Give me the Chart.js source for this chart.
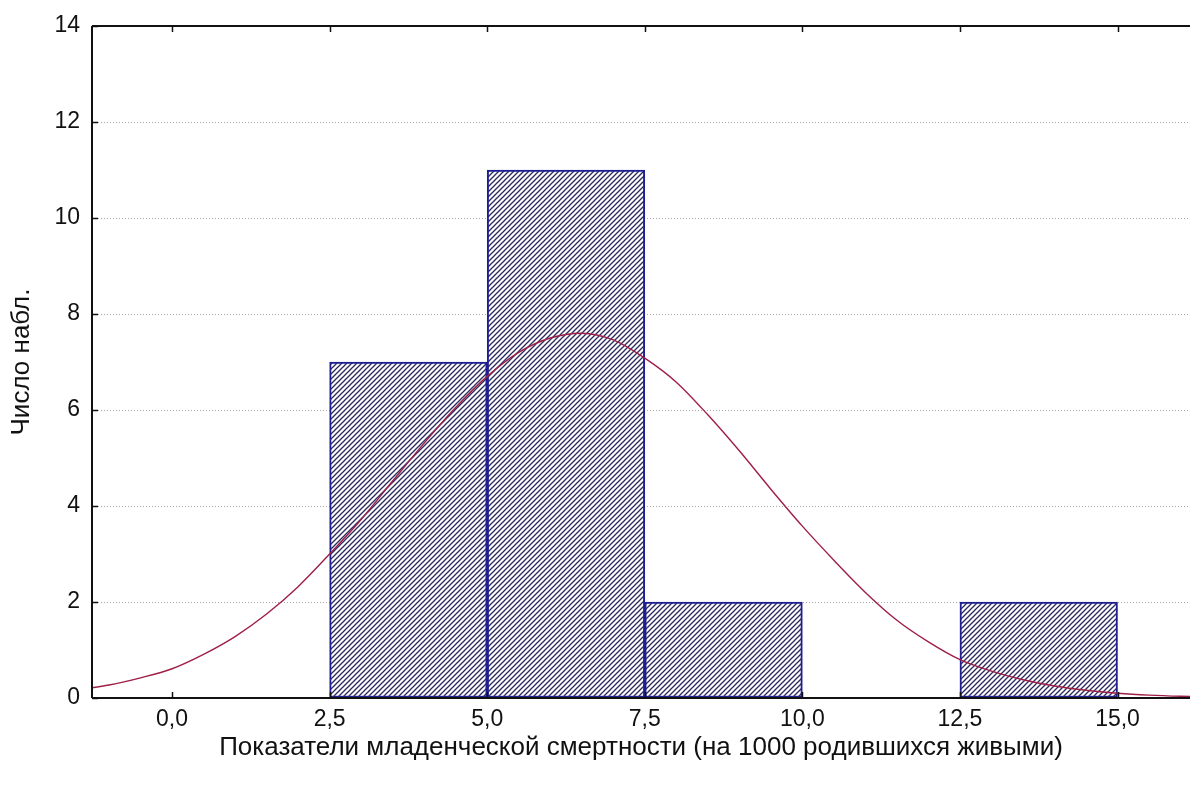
<!DOCTYPE html>
<html><head><meta charset="utf-8">
<script src="https://cdn.jsdelivr.net/npm/chart.js@4.4.1/dist/chart.umd.min.js"></script>
<style>html,body{margin:0;padding:0;background:#fff}#wrap{width:1190px;height:787px}</style>
</head><body><div id="wrap"><canvas id="c" width="1190" height="787"></canvas></div>
<script>
// Histogram bins (centres) and counts
const binCenters = [3.75, 6.25, 8.75, 11.25, 13.75];
const binCounts  = [7, 11, 2, 0, 2];
// Fitted normal curve
const curveX = [-1.5,-1,-0.5,0,0.5,1,1.5,2,2.5,3,3.5,4,4.5,5,5.5,6,6.5,7,7.5,8,8.5,9,9.5,10,10.5,11,11.5,12,12.5,13,13.5,14,14.5,15,15.5,16,16.5];
const curveY = [0.17,0.27,0.42,0.61,0.91,1.28,1.75,2.32,3.0,3.72,4.52,5.31,6.05,6.7,7.2,7.5,7.6,7.46,7.08,6.58,5.9,5.15,4.35,3.58,2.87,2.2,1.62,1.17,0.8,0.56,0.38,0.25,0.16,0.1,0.06,0.035,0.02];
const xTicks = [0, 2.5, 5, 7.5, 10, 12.5, 15];
const xTickLabels = ['0,0','2,5','5,0','7,5','10,0','12,5','15,0'];
const yTicks = [0,2,4,6,8,10,12,14];
const xTitle = 'Показатели младенческой смертности (на 1000 родившихся живыми)';
const yTitle = 'Число набл.';

const FONT = '"Liberation Sans",Arial,sans-serif';

function hatch(){
  const s = 5, c = document.createElement('canvas');
  c.width = s; c.height = s;
  const g = c.getContext('2d');
  g.fillStyle = '#ffffff'; g.fillRect(0,0,s,s);
  g.strokeStyle = '#2a2a60'; g.lineWidth = 1.3;
  for (const o of [-s, 0, s]) { g.beginPath(); g.moveTo(o-1, s+1); g.lineTo(o+s+1, -1); g.stroke(); }
  return g.createPattern(c, 'repeat');
}

const frame = {
  id: 'frame',
  afterDatasetsDraw(chart){
    const {ctx, chartArea:a, scales} = chart;
    ctx.save();
    ctx.strokeStyle = '#111'; ctx.lineWidth = 2;
    ctx.beginPath();
    ctx.moveTo(a.left, a.top); ctx.lineTo(a.right, a.top);
    ctx.moveTo(a.left, a.top); ctx.lineTo(a.left, a.bottom);
    ctx.moveTo(a.left, a.bottom); ctx.lineTo(a.right, a.bottom);
    ctx.stroke();
    ctx.lineWidth = 1.5;
    ctx.beginPath();
    xTicks.forEach(v => {
      const x = Math.round(scales.x.getPixelForValue(v)) + 0.5;
      ctx.moveTo(x, a.bottom); ctx.lineTo(x, a.bottom - 6);
      ctx.moveTo(x, a.top); ctx.lineTo(x, a.top + 6);
    });
    yTicks.forEach(v => {
      const y = Math.round(scales.y.getPixelForValue(v)) + 0.5;
      ctx.moveTo(a.left, y); ctx.lineTo(a.left + 6, y);
    });
    ctx.stroke();
    ctx.restore();
  }
};

new Chart(document.getElementById('c'), {
  type: 'bar',
  data: {
    datasets: [
      {
        type: 'line',
        data: curveX.map((x,i)=>({x, y: curveY[i]})),
        borderColor: '#9e1f45', borderWidth: 1.4, pointRadius: 0,
        cubicInterpolationMode: 'monotone', fill: false, order: 0
      },
      {
        type: 'bar',
        data: binCenters.map((x,i)=>({x, y: binCounts[i] || null})),
        backgroundColor: hatch(), borderColor: '#1e1e92', borderWidth: 2,
        borderSkipped: false, barPercentage: 1, categoryPercentage: 1, order: 1
      }
    ]
  },
  options: {
    responsive: false, animation: false, devicePixelRatio: 1,
    layout: { padding: { top: 26, right: 0, left: 0, bottom: 0 } },
    plugins: { legend: { display: false }, tooltip: { enabled: false } },
    scales: {
      x: {
        type: 'linear', min: -1.27, max: 16.15, offset: false,
        afterBuildTicks: s => { s.ticks = xTicks.map(v => ({value: v})); },
        afterFit: s => { s.height = 89; },
        grid: { display: false, drawTicks: false, offset: false },
        border: { display: false },
        ticks: { padding: 8, color: '#111', font: { family: FONT, size: 23 },
                 callback: (v) => xTickLabels[xTicks.indexOf(v)] ?? '' },
        title: { display: true, text: xTitle, color: '#111', font: { family: FONT, size: 26 }, padding: { top: 6, bottom: 24 } }
      },
      y: {
        min: 0, max: 14,
        afterBuildTicks: s => { s.ticks = yTicks.map(v => ({value: v})); },
        afterFit: s => { s.width = 92; },
        grid: { drawTicks: false, color: (c) => (c.tick && (c.tick.value === 0 || c.tick.value === 14)) ? 'rgba(0,0,0,0)' : '#a8a8a8', borderDash: [1, 2], lineWidth: 1 },
        border: { display: false, dash: [1,2] },
        ticks: { padding: 12, color: '#111', font: { family: FONT, size: 23 } },
        title: { display: true, text: yTitle, color: '#111', font: { family: FONT, size: 26 }, padding: { top: 6, bottom: 8 } }
      }
    }
  },
  plugins: [frame]
});
</script></body></html>
